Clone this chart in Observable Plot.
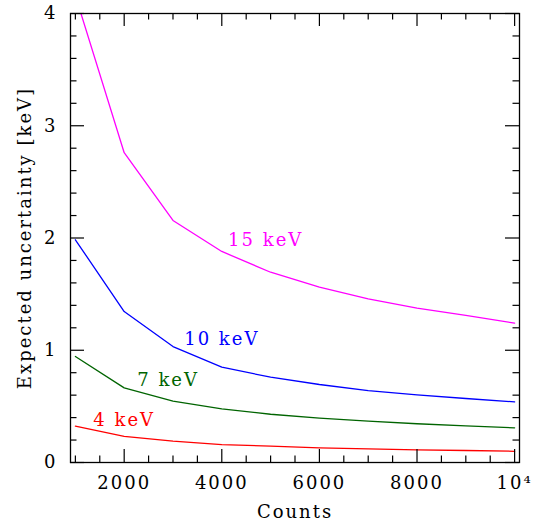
<!DOCTYPE html>
<html><head><meta charset="utf-8">
<script src="https://cdn.jsdelivr.net/npm/d3@7"></script>
<script src="https://cdn.jsdelivr.net/npm/@observablehq/plot@0.6"></script>
<style>body{margin:0;background:#fff}</style>
</head><body><div id="chart"></div>
<script>
const counts = [1000, 2000, 3000, 4000, 5000, 6000, 7000, 8000, 9000, 10000];
const kev4  = [0.324, 0.232, 0.190, 0.160, 0.145, 0.130, 0.122, 0.113, 0.107, 0.100];
const kev7  = [0.944, 0.665, 0.546, 0.478, 0.430, 0.395, 0.368, 0.345, 0.327, 0.309];
const kev10 = [1.984, 1.345, 1.033, 0.849, 0.760, 0.695, 0.641, 0.603, 0.570, 0.540];
const kev15 = [4.16, 2.76, 2.156, 1.88, 1.695, 1.562, 1.458, 1.375, 1.310, 1.241];
const seriesNames = ["4 keV", "7 keV", "10 keV", "15 keV"];
const seriesColors = ["#ff0000", "#006400", "#0000ff", "#ff00ff"];
// label anchors (data units)
const labelX = [2000, 2900, 4000, 4900];
const labelY = [0.374, 0.73, 1.096, 1.98];
const xMajorTicks = [2000, 4000, 6000, 8000, 10000];
const xTickLabels = ["2000", "4000", "6000", "8000", "10\u2074"];
const xMinorTicks = [1000, 1500, 2500, 3000, 3500, 4500, 5000, 5500, 6500, 7000, 7500, 8500, 9000, 9500];
const yMajorTicks = [0, 1, 2, 3, 4];
const yMinorTicks = [0.2, 0.4, 0.6, 0.8, 1.2, 1.4, 1.6, 1.8, 2.2, 2.4, 2.6, 2.8, 3.2, 3.4, 3.6, 3.8];
const xTitle = "Counts";
const yTitle = "Expected uncertainty [keV]";

const W = 537, H = 522, mL = 70, mR = 18, mT = 13, mB = 60;
const xDom = [900, 10100], yDom = [0, 4];
const pw = W - mL - mR, ph = H - mT - mB;
const dx = px => px * (xDom[1] - xDom[0]) / pw;
const dy = px => px * (yDom[1] - yDom[0]) / ph;

const rows = [];
[kev4, kev7, kev10, kev15].forEach((s, k) => s.forEach((v, i) => rows.push({x: counts[i], y: v, s: seriesNames[k]})));
const labels = seriesNames.map((n, i) => ({n, x: labelX[i], y: labelY[i], c: seriesColors[i]}));

const MAJ = 13, MIN = 6.5;
const tickStyle = {stroke: "#000", strokeWidth: 1.2};
const font = {fontSize: 18, fontFamily: "DejaVu Serif"};
const chart = Plot.plot({
  width: W, height: H,
  marginLeft: mL, marginRight: mR, marginTop: mT, marginBottom: mB,
  style: {fontFamily: "DejaVu Serif", fontSize: "18px", background: "#fff", color: "#000", letterSpacing: "2px"},
  x: {domain: xDom},
  y: {domain: yDom},
  color: {domain: seriesNames, range: seriesColors},
  marks: [
    Plot.line(rows, {x: "x", y: "y", z: "s", stroke: "s", strokeWidth: 1.3, clip: true}),
    Plot.text(labels, {x: "x", y: "y", text: "n", fill: "c", ...font}),
    Plot.ruleX(xMajorTicks, {x: d => d, y1: yDom[0], y2: yDom[0] + dy(MAJ), ...tickStyle}),
    Plot.ruleX(xMajorTicks, {x: d => d, y1: yDom[1], y2: yDom[1] - dy(MAJ), ...tickStyle}),
    Plot.ruleX(xMinorTicks, {x: d => d, y1: yDom[0], y2: yDom[0] + dy(MIN), ...tickStyle}),
    Plot.ruleX(xMinorTicks, {x: d => d, y1: yDom[1], y2: yDom[1] - dy(MIN), ...tickStyle}),
    Plot.ruleY(yMajorTicks, {y: d => d, x1: xDom[0], x2: xDom[0] + dx(MAJ + 1), ...tickStyle}),
    Plot.ruleY(yMajorTicks, {y: d => d, x1: xDom[1], x2: xDom[1] - dx(MAJ + 1), ...tickStyle}),
    Plot.ruleY(yMinorTicks, {y: d => d, x1: xDom[0], x2: xDom[0] + dx(MIN), ...tickStyle}),
    Plot.ruleY(yMinorTicks, {y: d => d, x1: xDom[1], x2: xDom[1] - dx(MIN), ...tickStyle}),
    Plot.frame({stroke: "#000", strokeWidth: 1.3}),
    Plot.axisX(xMajorTicks, {tickSize: 0, tickPadding: 14, tickFormat: d => xTickLabels[xMajorTicks.indexOf(d)], label: null}),
    Plot.axisY(yMajorTicks, {tickSize: 0, tickPadding: 13, tickFormat: d => String(d), label: null}),
    Plot.text([xTitle], {frameAnchor: "bottom", dy: 55, text: d => d, lineAnchor: "bottom", ...font}),
    Plot.text([yTitle], {frameAnchor: "left", dx: -45, rotate: -90, textAnchor: "middle", text: d => d, ...font})
  ]
});
document.getElementById("chart").appendChild(chart);
</script>
</body></html>
